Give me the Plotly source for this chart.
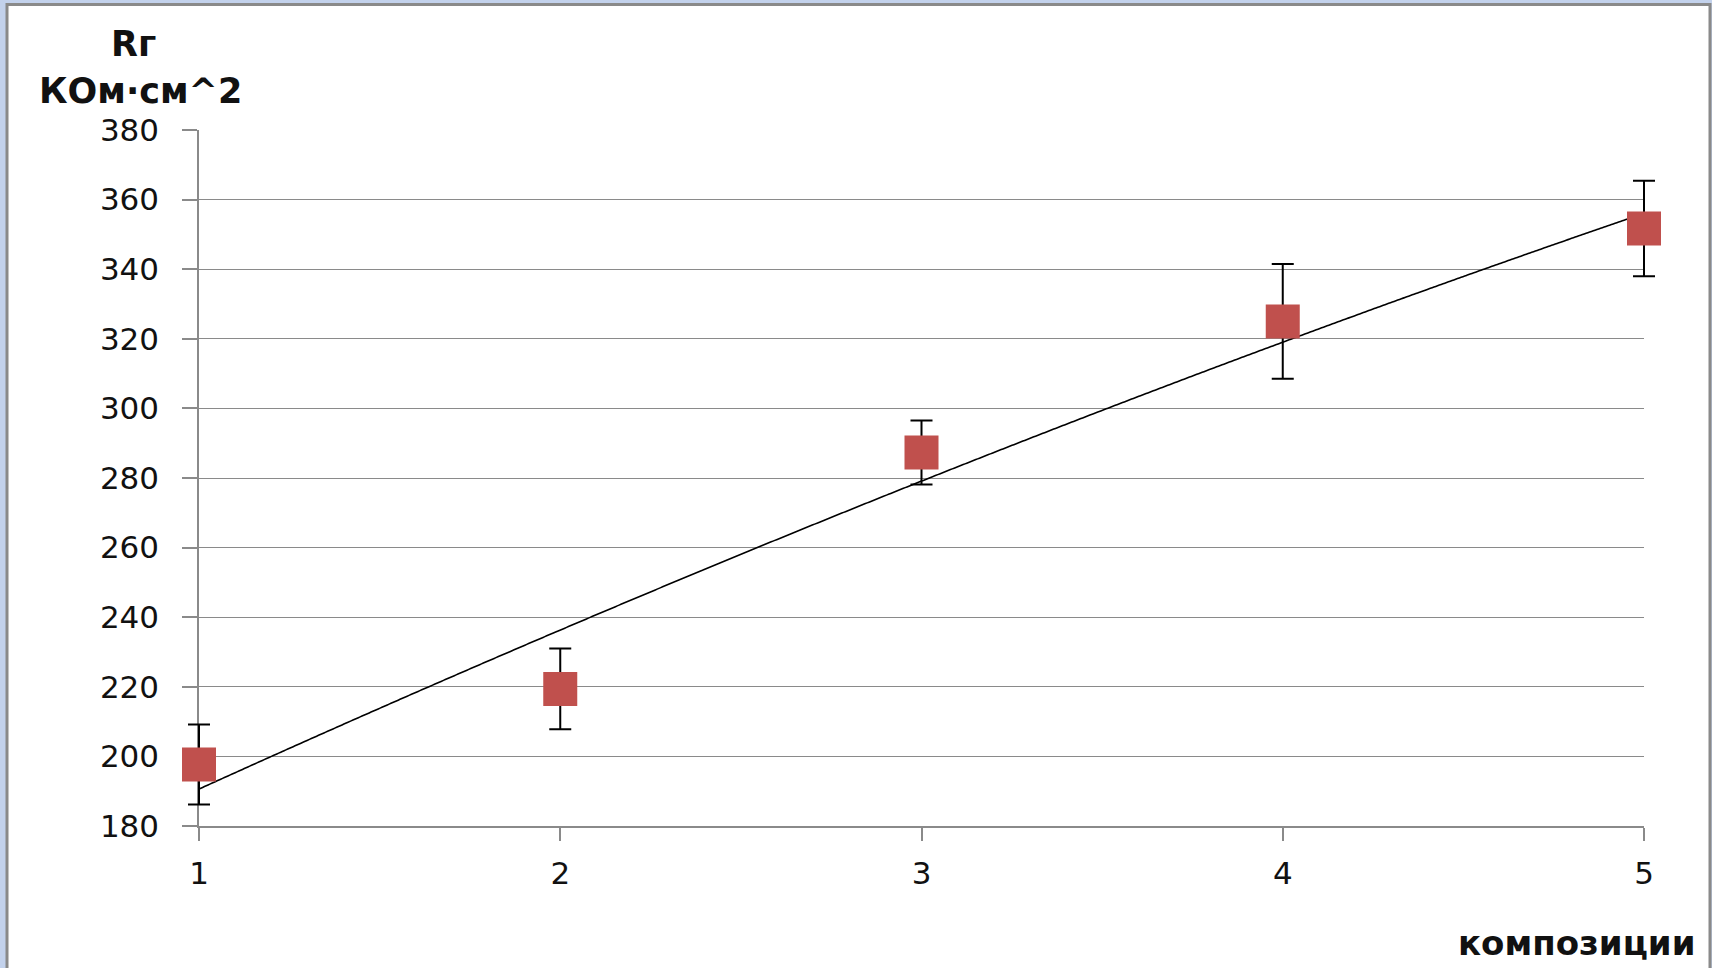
import numpy as np
import plotly.graph_objects as go

# Composition number vs. resistance Rг (kΩ·cm²) with error bars
compositions = [1, 2, 3, 4, 5]
resistance = [197.7, 219.4, 287.3, 325.0, 351.7]
resistance_err = [11.5, 11.6, 9.2, 16.5, 13.7]
y_ticks = [180, 200, 220, 240, 260, 280, 300, 320, 340, 360, 380]
x_ticks = [1, 2, 3, 4, 5]
x_range = [1, 5]
y_range = [180, 380]

W, H = 1712, 968
L, R, T, B = 199, 1644, 130, 826  # visible plot area in pixels
PAD = 40                           # extra room so end markers/error bars are not clipped
PL, PR = L - PAD, R + PAD          # extent of the paper area


def px(x):
    return (x - PL) / (PR - PL)


def py(y):
    return (B - y) / (B - T)


# data axis spans a slightly wider area than the visible axis, same scale
units_per_px = (x_range[1] - x_range[0]) / (R - L)
x2_range = [x_range[0] - PAD * units_per_px, x_range[1] + PAD * units_per_px]

# second-order polynomial trendline through the measured points
coef = np.polyfit(compositions, resistance, 2)
x_fit = np.linspace(1, 5, 400)
y_fit = np.polyval(coef, x_fit)

grid_col = "#8a8a8a"
tick_font = dict(family="DejaVu Sans, sans-serif", size=31, color="#111")
title_font = dict(family="DejaVu Sans, sans-serif", size=35, color="#111")

fig = go.Figure()

# empty trace on the visible axes so the grid, ticks and labels are drawn
fig.add_trace(go.Scatter(
    x=[None], y=[None], mode="markers", xaxis="x", yaxis="y",
    showlegend=False, hoverinfo="skip",
))

fig.add_trace(go.Scatter(
    x=x_fit, y=y_fit, mode="lines", xaxis="x2", yaxis="y2",
    line=dict(color="black", width=1.6, shape="spline"),
    showlegend=False, hoverinfo="skip",
))

fig.add_trace(go.Scatter(
    x=compositions, y=resistance, mode="markers", xaxis="x2", yaxis="y2",
    marker=dict(symbol="square", size=34, color="#c0504d",
                line=dict(width=0)),
    error_y=dict(type="data", array=resistance_err, visible=True,
                 color="black", thickness=2, width=11),
    showlegend=False, hoverinfo="x+y",
))

# outer frame: light-blue strip with a grey rule around the white chart area
fig.add_shape(type="rect", xref="paper", yref="paper", layer="below",
              x0=px(0), x1=px(W), y0=py(H), y1=py(0),
              fillcolor="#c3d2ec", line=dict(width=0))
fig.add_shape(type="rect", xref="paper", yref="paper", layer="below",
              x0=px(7), x1=px(1710), y0=py(H + 10), y1=py(4.5),
              fillcolor="white", line=dict(color="#8a8a8a", width=3))

annotations = [
    dict(text="<b>Rг</b>", x=px(133), y=py(44), xanchor="center", yanchor="middle",
         font=title_font),
    dict(text="<b>КОм·см^2</b>", x=px(140), y=py(91), xanchor="center", yanchor="middle",
         font=title_font),
    dict(text="<b>композиции</b>", x=px(1698), y=py(943), xanchor="right", yanchor="middle",
         font=dict(family="DejaVu Sans, sans-serif", size=34, color="#111")),
]
for a in annotations:
    a.update(xref="paper", yref="paper", showarrow=False)

fig.update_layout(
    width=W, height=H,
    margin=dict(l=PL, r=W - PR, t=T, b=H - B, pad=0),
    paper_bgcolor="white", plot_bgcolor="rgba(0,0,0,0)",
    annotations=annotations,
    xaxis=dict(range=x_range, domain=[px(L), px(R)], anchor="y", tickvals=x_ticks,
               ticks="outside", ticklen=13, tickcolor=grid_col, tickwidth=1.5,
               showgrid=False, zeroline=False, showline=True, linecolor=grid_col,
               linewidth=1.5, tickfont=tick_font, ticklabelstandoff=6),
    yaxis=dict(range=y_range, anchor="x", tickvals=y_ticks, ticks="outside", ticklen=15,
               tickcolor=grid_col, tickwidth=1.5, showgrid=True, gridcolor=grid_col,
               gridwidth=1.2, zeroline=False, showline=True, linecolor=grid_col,
               linewidth=1.5, tickfont=tick_font, ticklabelstandoff=17),
    xaxis2=dict(range=x2_range, domain=[0, 1], anchor="y2", visible=False,
                showgrid=False, zeroline=False),
    yaxis2=dict(range=y_range, domain=[0, 1], anchor="x2", visible=False,
                showgrid=False, zeroline=False),
)

fig.write_html("out.html")
